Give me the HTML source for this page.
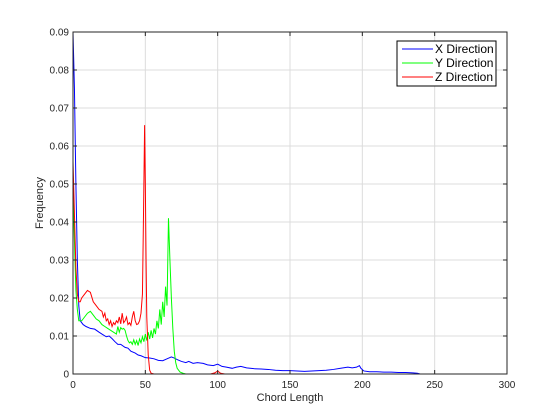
<!DOCTYPE html>
<html><head><meta charset="utf-8"><style>
body{margin:0;background:#fff;}
svg{display:block;font-family:"Liberation Sans",sans-serif;}
</style></head><body>
<svg id="chart" width="560" height="420" viewBox="0 0 560 420">
<rect width="560" height="420" fill="#fff"/>
<g id="grid"></g><g id="series"></g><g id="axes"></g>
<g>
<rect x="397" y="41" width="99" height="45" fill="#fff" stroke="#000" stroke-width="1"/>
<g><line x1="402" y1="49" x2="433" y2="49" stroke="#0000ff"/><text x="435" y="53" font-size="12">X Direction</text></g>
<g><line x1="402" y1="63" x2="433" y2="63" stroke="#00ff00"/><text x="435" y="67" font-size="12">Y Direction</text></g>
<g><line x1="402" y1="77" x2="433" y2="77" stroke="#ff0000"/><text x="435" y="81" font-size="12">Z Direction</text></g>
</g>
</svg>
<script>
const xTicks=[0,50,100,150,200,250,300];
const yTicks=[0,0.01,0.02,0.03,0.04,0.05,0.06,0.07,0.08,0.09];
const yTickLabels=["0","0.01","0.02","0.03","0.04","0.05","0.06","0.07","0.08","0.09"];
const xDirX=[0,1,2,3,4,5,7,9,12,15,18,20,23,25,27,29,31,33,36,38,40,43,45,47,50,53,56,59,62,65,68,70,72,75,78,80,83,86,90,93,97,100,103,106,110,113,116,120,125,130,135,140,145,150,155,160,165,170,175,180,185,190,193,196,198,199,201,205,210,215,220,225,230,235,238,240,250,300];
const xDirY=[0.09,0.075,0.05,0.03,0.018,0.014,0.013,0.0125,0.012,0.0118,0.011,0.0105,0.0098,0.01,0.0093,0.0085,0.0078,0.0078,0.007,0.0068,0.006,0.0055,0.005,0.0048,0.0043,0.0042,0.004,0.0036,0.0035,0.004,0.0045,0.0042,0.0038,0.0033,0.003,0.0033,0.0028,0.003,0.0028,0.0024,0.0022,0.0026,0.002,0.0018,0.0015,0.0018,0.002,0.0016,0.0014,0.0013,0.0012,0.001,0.0009,0.0009,0.0008,0.0007,0.0008,0.0009,0.001,0.0012,0.0015,0.0018,0.0016,0.0018,0.0022,0.0015,0.0008,0.0006,0.0006,0.0005,0.0005,0.0004,0.0004,0.0003,0.0002,0,0,0];
const yDirX=[0,1,2,3,4,6,8,10,12,14,16,18,20,22,24,26,28,30,31,32,33,34,35,36,37,38,39,40,41,42,43,44,45,46,47,48,49,50,51,52,53,54,55,56,57,58,59,60,61,62,63,64,65,66,67,68,69,70,71,72,74,76,78,80,100,300];
const yDirY=[0.049,0.035,0.022,0.017,0.014,0.014,0.015,0.016,0.0165,0.0155,0.0145,0.014,0.013,0.0125,0.012,0.0115,0.011,0.0105,0.0125,0.011,0.0122,0.0118,0.012,0.0115,0.01,0.0088,0.0082,0.0085,0.0078,0.009,0.0078,0.0088,0.0075,0.0092,0.0082,0.0098,0.0085,0.0105,0.0088,0.011,0.0092,0.0115,0.0095,0.012,0.0105,0.014,0.012,0.017,0.013,0.019,0.015,0.023,0.018,0.041,0.03,0.02,0.012,0.006,0.003,0.0015,0.0005,0.0002,0,0,0,0];
const zDirX=[0,1,2,3,4,5,6,8,10,12,14,16,18,20,21,22,23,24,25,26,27,28,29,30,31,32,33,34,35,36,37,38,39,40,41,42,43,44,45,46,47,48,48.5,49,49.5,50,50.5,51,52,53,54,56,60,95,98,100,102,105,300];
const zDirY=[0.056,0.042,0.028,0.021,0.019,0.019,0.02,0.021,0.022,0.0215,0.019,0.018,0.017,0.0165,0.015,0.016,0.014,0.0145,0.013,0.014,0.0125,0.0135,0.013,0.014,0.0135,0.015,0.0132,0.016,0.0135,0.014,0.015,0.013,0.0135,0.0128,0.015,0.0165,0.014,0.013,0.0132,0.014,0.016,0.021,0.035,0.05,0.0655,0.05,0.03,0.015,0.005,0.001,0.0002,0,0,0,0.0003,0.0008,0.0002,0,0];
const X0=73,X1=507,Y0=374,Y1=32;
const sx=v=>X0+(v-0)/(300-0)*(X1-X0);
const sy=v=>Y0-(v-0)/0.09*(Y0-Y1);
const NS="http://www.w3.org/2000/svg";
function mk(tag,attrs,parent){const e=document.createElementNS(NS,tag);for(const k in attrs)e.setAttribute(k,attrs[k]);parent.appendChild(e);return e;}
const grid=document.getElementById('grid'),axes=document.getElementById('axes'),series=document.getElementById('series');
xTicks.forEach(t=>{const l=mk('line',{x1:sx(t),x2:sx(t),y1:Y1,y2:Y0,stroke:'#dcdcdc','stroke-width':1},grid);


mk('line',{x1:sx(t),x2:sx(t),y1:Y0,y2:Y0-4,stroke:'#262626'},axes);
mk('line',{x1:sx(t),x2:sx(t),y1:Y1,y2:Y1+4,stroke:'#262626'},axes);
const tx=mk('text',{x:sx(t),y:Y0+14,'font-size':10,'text-anchor':'middle',fill:'#262626'},axes);tx.textContent=t;

});
yTicks.forEach((t,i)=>{const l=mk('line',{x1:X0,x2:X1,y1:sy(t),y2:sy(t),stroke:'#dcdcdc','stroke-width':1},grid);


mk('line',{x1:X0,x2:X0+4,y1:sy(t),y2:sy(t),stroke:'#262626'},axes);
mk('line',{x1:X1,x2:X1-4,y1:sy(t),y2:sy(t),stroke:'#262626'},axes);
const tx=mk('text',{x:X0-4,y:sy(t)+3.5,'font-size':10,'text-anchor':'end',fill:'#262626'},axes);tx.textContent=yTickLabels[i];

});
const box=mk('rect',{x:X0,y:Y1,width:X1-X0,height:Y0-Y1,fill:'none',stroke:'#262626'},axes);


const xl=mk('text',{x:(X0+X1)/2,y:Y0+27,'font-size':11,'text-anchor':'middle',fill:'#262626'},axes);xl.textContent='Chord Length';


const yl=mk('text',{x:0,y:0,'font-size':11,'text-anchor':'middle',fill:'#262626',transform:`translate(43,${(Y0+Y1)/2}) rotate(-90)`},axes);yl.textContent='Frequency';


function draw(xs,ys,color,name){const p=mk('polyline',{points:xs.map((x,i)=>sx(x)+','+sy(ys[i])).join(' '),fill:'none',stroke:color,'stroke-width':1},series);

}
draw(xDirX,xDirY,'#0000ff','x-direction-line');
draw(yDirX,yDirY,'#00ff00','y-direction-line');
draw(zDirX,zDirY,'#ff0000','z-direction-line');
</script>
</body></html>
